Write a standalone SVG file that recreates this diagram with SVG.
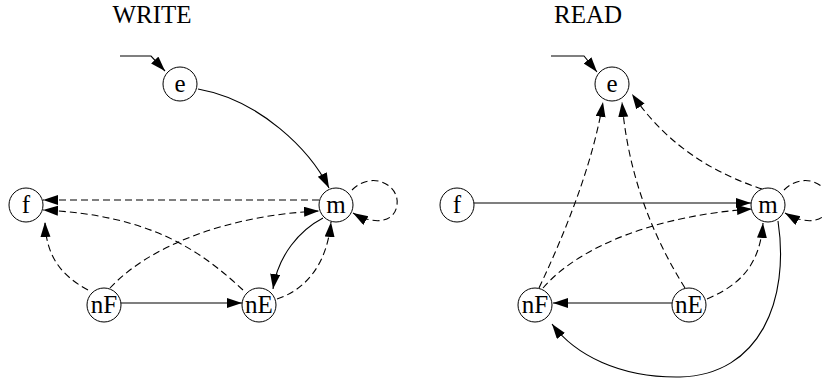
<svg xmlns="http://www.w3.org/2000/svg" width="823" height="381" viewBox="0 0 823 381">
<style>
text{font-family:"Liberation Serif","Times New Roman",serif;fill:#000;text-anchor:middle}
.t{font-size:25px}
.n{font-size:25px}
circle{fill:#fff;stroke:#000;stroke-width:1}
.e{fill:none;stroke:#000;stroke-width:1.1;marker-end:url(#ah)}
.d{stroke-dasharray:7 4}
</style>
<defs>
<marker id="ah" markerUnits="userSpaceOnUse" markerWidth="16" markerHeight="11" refX="15" refY="5" orient="auto">
<path d="M0,0 L15,5 L0,10 Z" fill="#000" stroke="none"/>
</marker>
</defs>
<rect width="823" height="381" fill="#fff"/>
<text class="t" x="152" y="23">WRITE</text>
<text class="t" x="588" y="23">READ</text>
<g id="connectors">
<path class="e" d="M120,56 H151 L165,71"/>
<path class="e" d="M198,89 C260,100 310,150 329,188"/>
<path class="e d" d="M319,200 L43,200"/>
<path class="e d" d="M243,290 C200,250 150,215 43,210"/>
<path class="e d" d="M88,290 C60,275 46,255 45,222"/>
<path class="e d" d="M110,288 C150,245 230,215 319,211"/>
<path class="e" d="M323,218 C300,230 278,255 273,289"/>
<path class="e d" d="M277,299 C305,290 327,265 331,222"/>
<path class="e" d="M121,303 L242,303"/>
<path class="e d" d="M352,190 C372,170 400,185 397,205 C395,222 375,226 353,213"/>
<path class="e" d="M551,56 H584 L597,72"/>
<path class="e d" d="M539,288 Q590,180 603,102"/>
<path class="e d" d="M685,288 Q630,200 622,102"/>
<path class="e d" d="M762,189 C720,175 670,150 632,94"/>
<path class="e" d="M474,203 L751,203"/>
<path class="e d" d="M543,288 C580,245 660,215 752,209"/>
<path class="e d" d="M707,299 C740,285 760,265 763,223"/>
<path class="e" d="M672,303 L553,303"/>
<path class="e" d="M778,221 C790,300 760,375 680,377 C620,378 575,355 552,324"/>
<path class="e d" d="M784,190 C804,170 832,185 829,205 C827,222 807,226 785,213"/>
</g>
<g id="w-e"><circle cx="180" cy="84" r="17"/><text class="n" x="180" y="92">e</text></g>
<g id="w-f"><circle cx="26" cy="205" r="17"/><text class="n" x="26" y="213">f</text></g>
<g id="w-m"><circle cx="336" cy="205" r="17"/><text class="n" x="336" y="213">m</text></g>
<g id="w-nF"><circle cx="104" cy="305" r="17"/><text class="n" x="104" y="313">nF</text></g>
<g id="w-nE"><circle cx="259" cy="305" r="17"/><text class="n" x="259" y="313">nE</text></g>
<g id="r-e"><circle cx="612" cy="84" r="17"/><text class="n" x="612" y="92">e</text></g>
<g id="r-f"><circle cx="457" cy="205" r="17"/><text class="n" x="457" y="213">f</text></g>
<g id="r-m"><circle cx="768" cy="205" r="17"/><text class="n" x="768" y="213">m</text></g>
<g id="r-nF"><circle cx="535" cy="305" r="17"/><text class="n" x="535" y="313">nF</text></g>
<g id="r-nE"><circle cx="689" cy="305" r="17"/><text class="n" x="689" y="313">nE</text></g>
</svg>
